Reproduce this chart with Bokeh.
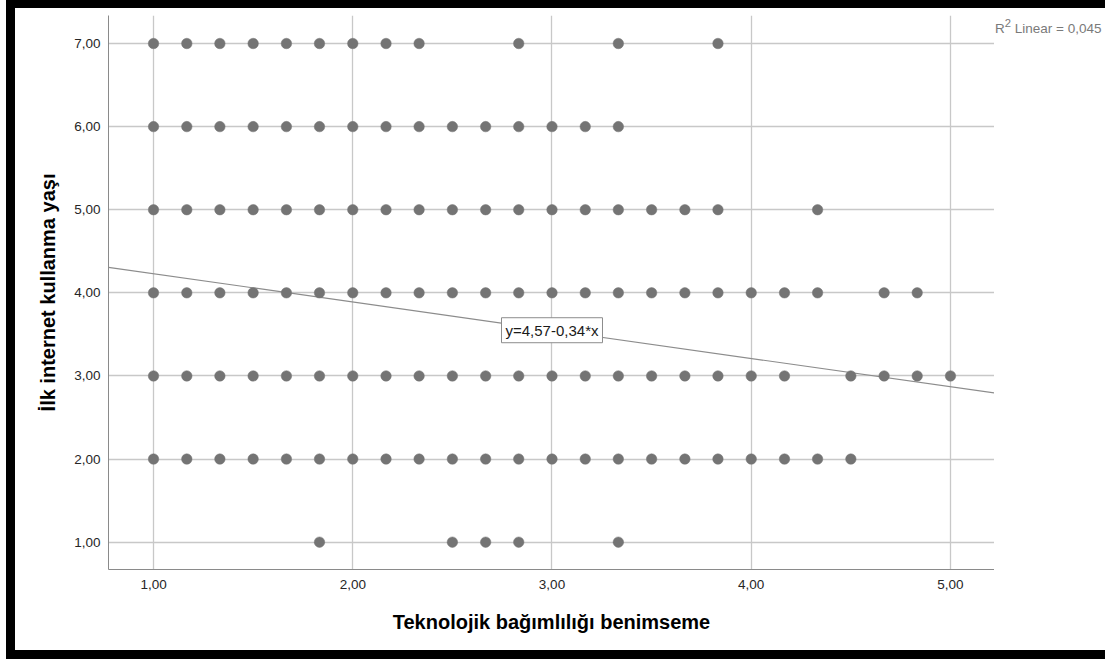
from bokeh.plotting import figure
from bokeh.models import Label, FixedTicker, ColumnDataSource, Range1d, Div, Spacer
from bokeh.layouts import column, row
from bokeh.embed import file_html
from bokeh.resources import INLINE

# ---- data ----
x_row7 = [1.000, 1.167, 1.333, 1.500, 1.667, 1.833, 2.000, 2.167, 2.333, 2.833, 3.333, 3.833]
x_row6 = [1.000, 1.167, 1.333, 1.500, 1.667, 1.833, 2.000, 2.167, 2.333, 2.500, 2.667, 2.833,
          3.000, 3.167, 3.333]
x_row5 = [1.000, 1.167, 1.333, 1.500, 1.667, 1.833, 2.000, 2.167, 2.333, 2.500, 2.667, 2.833,
          3.000, 3.167, 3.333, 3.500, 3.667, 3.833, 4.333]
x_row4 = [1.000, 1.167, 1.333, 1.500, 1.667, 1.833, 2.000, 2.167, 2.333, 2.500, 2.667, 2.833,
          3.000, 3.167, 3.333, 3.500, 3.667, 3.833, 4.000, 4.167, 4.333, 4.667, 4.833]
x_row3 = [1.000, 1.167, 1.333, 1.500, 1.667, 1.833, 2.000, 2.167, 2.333, 2.500, 2.667, 2.833,
          3.000, 3.167, 3.333, 3.500, 3.667, 3.833, 4.000, 4.167, 4.500, 4.667, 4.833, 5.000]
x_row2 = [1.000, 1.167, 1.333, 1.500, 1.667, 1.833, 2.000, 2.167, 2.333, 2.500, 2.667, 2.833,
          3.000, 3.167, 3.333, 3.500, 3.667, 3.833, 4.000, 4.167, 4.333, 4.500]
x_row1 = [1.833, 2.500, 2.667, 2.833, 3.333]
row_values = [7, 6, 5, 4, 3, 2, 1]

fit_intercept = 4.57
fit_slope = -0.34
fit_text = "y=4,57-0,34*x"
r2_html = "R<sup>2</sup> Linear = 0,045"

x_ticks = [1, 2, 3, 4, 5]
x_tick_labels = ["1,00", "2,00", "3,00", "4,00", "5,00"]
y_ticks = [1, 2, 3, 4, 5, 6, 7]
y_tick_labels = ["1,00", "2,00", "3,00", "4,00", "5,00", "6,00", "7,00"]

x_title = "Teknolojik ba\u011f\u0131ml\u0131l\u0131\u011f\u0131 benimseme"
y_title = "\u0130lk internet kullanma ya\u015f\u0131"

# ---- build points table ----
rows = [x_row7, x_row6, x_row5, x_row4, x_row3, x_row2, x_row1]
px, py = [], []
for xs, yv in zip(rows, row_values):
    px.extend(xs)
    py.extend([yv] * len(xs))
src = ColumnDataSource(dict(x=px, y=py))

X0, X1 = 0.774, 5.221
Y0, Y1 = 0.671, 7.337

FONT = "Liberation Sans"

p = figure(width=979, height=642, output_backend="svg", toolbar_location=None,
           x_range=Range1d(X0, X1), y_range=Range1d(Y0, Y1),
           min_border_left=93, min_border_right=0, min_border_top=7, min_border_bottom=81)
p.outline_line_color = None
p.background_fill_color = "white"
p.border_fill_color = "white"

for ax in (p.xaxis[0], p.yaxis[0]):
    ax.major_tick_out = 0
    ax.major_tick_in = 0
    ax.minor_tick_out = 0
    ax.minor_tick_in = 0
    ax.axis_line_color = "#8a8a8a"
    ax.axis_line_width = 1
    ax.major_label_text_font = FONT
    ax.major_label_text_font_size = "13.5px"
    ax.major_label_text_color = "#262626"
    ax.axis_label_text_font = FONT
    ax.axis_label_text_font_size = "20px"
    ax.axis_label_text_font_style = "bold"
    ax.axis_label_text_color = "#000000"

p.xaxis.ticker = FixedTicker(ticks=x_ticks)
p.yaxis.ticker = FixedTicker(ticks=y_ticks)
p.xaxis.major_label_overrides = dict(zip(x_ticks, x_tick_labels))
p.yaxis.major_label_overrides = dict(zip(y_ticks, y_tick_labels))
p.xaxis.axis_label = x_title
p.yaxis.axis_label = y_title
p.xaxis.major_label_standoff = 10
p.xaxis.axis_label_standoff = 19
p.yaxis.major_label_standoff = 8
p.yaxis.axis_label_standoff = 12

p.grid.grid_line_color = "#c8c8c8"
p.grid.grid_line_width = 1.3
p.xgrid.ticker = FixedTicker(ticks=x_ticks)
p.ygrid.ticker = FixedTicker(ticks=y_ticks)

# regression line over the chart area
fx = [X0, X1]
fy = [fit_intercept + fit_slope * v for v in fx]
p.line(fx, fy, line_color="#8c8c8c", line_width=1.2)

p.scatter("x", "y", source=src, size=10.5, fill_color="#747474", line_color="#747474",
          line_width=0.5)

xm = 3.0
eq = Label(x=xm, y=fit_intercept + fit_slope * xm, text=fit_text, text_align="center",
           text_baseline="middle", text_font=FONT, text_font_size="15px",
           text_color="#1a1a1a", background_fill_color="white",
           border_line_color="#8c8c8c", border_line_width=1, padding=4)
p.add_layout(eq)

# R^2 note in the right margin
r2_div = Div(width=111, height=642, margin=0,
             text=('<div style="margin-top:7px;margin-left:1px;white-space:nowrap;'
                   'font-family:\'Liberation Sans\';font-size:13.5px;color:#7a7a7a;'
                   'line-height:16px">' + r2_html + '</div>'))

# black frame of the original picture
top_bar = Div(width=1099, height=8, margin=0, styles={"background-color": "black"})
left_bar = Div(width=9, height=642, margin=0, styles={"background-color": "black"})
bottom_bar = Div(width=1099, height=9, margin=0, styles={"background-color": "black"})
layout = row(Spacer(width=6, height=659, margin=0),
             column(top_bar, row(left_bar, p, r2_div, spacing=0), bottom_bar, spacing=0),
             spacing=0)

open("out.html", "w").write(file_html(layout, INLINE))
